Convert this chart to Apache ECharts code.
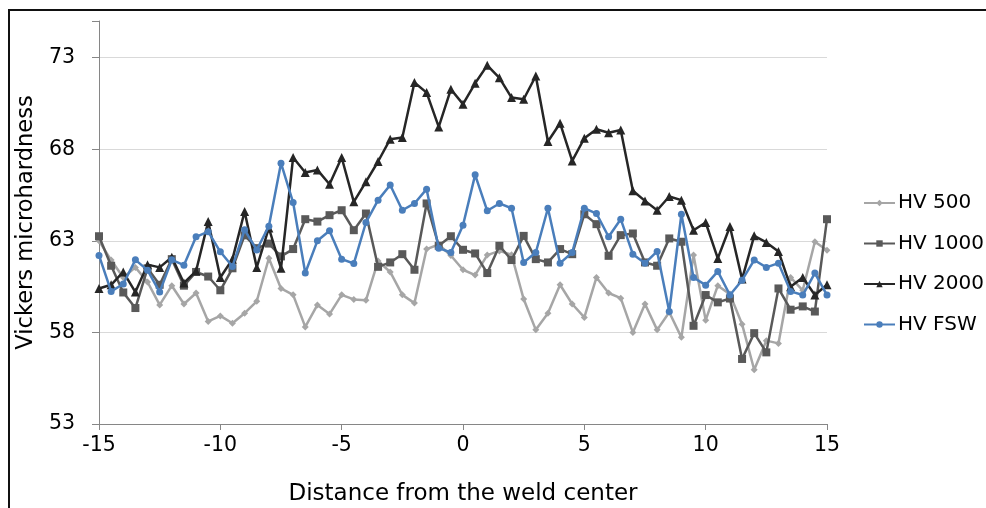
<!DOCTYPE html>
<html>
<head>
<meta charset="utf-8">
<script src="https://cdn.jsdelivr.net/npm/echarts@6/dist/echarts.min.js"></script>
<style>
  html, body { margin: 0; padding: 0; background: #ffffff; }
  #wrap { position: relative; width: 986px; height: 508px; overflow: hidden; }
  #chart { position: absolute; left: 0; top: 0; width: 986px; height: 508px; }
  #frame { position: absolute; left: 8px; top: 9px; width: 1200px; height: 800px;
           border-top: 2px solid #111; border-left: 2px solid #111; pointer-events: none; }
</style>
</head>
<body>
<div id="wrap">
  <div id="chart"></div>
  <div id="frame"></div>
</div>
<script>
// Distance from the weld center (x values)
var distances = [-15, -14.5, -14, -13.5, -13, -12.5, -12, -11.5, -11, -10.5,
  -10, -9.5, -9, -8.5, -8, -7.5, -7, -6.5, -6, -5.5,
  -5, -4.5, -4, -3.5, -3, -2.5, -2, -1.5, -1, -0.5,
  0, 0.5, 1, 1.5, 2, 2.5, 3, 3.5, 4, 4.5,
  5, 5.5, 6, 6.5, 7, 7.5, 8, 8.5, 9, 9.5,
  10, 10.5, 11, 11.5, 12, 12.5, 13, 13.5, 14, 14.5, 15];

var seriesNames = ['HV 500', 'HV 1000', 'HV 2000', 'HV FSW'];

var hv500 = [63.0, 61.95, 61.0, 61.55, 60.75, 59.5, 60.55, 59.55, 60.15, 58.6,
  58.9, 58.5, 59.05, 59.7, 62.05, 60.4, 60.05, 58.3, 59.5, 59.0,
  60.05, 59.8, 59.75, 61.9, 61.3, 60.05, 59.6, 62.55, 62.8, 62.2,
  61.42, 61.13, 62.22, 62.45, 62.24, 59.82, 58.14, 59.05, 60.6, 59.55,
  58.82, 61.0, 60.15, 59.87, 58.0, 59.55, 58.14, 59.1, 57.73, 62.22,
  58.67, 60.55, 60.09, 58.45, 55.96, 57.55, 57.4, 61.0, 60.3, 62.95, 62.49];

var hv1000 = [63.25, 61.64, 60.18, 59.33, 61.5, 60.6, 62.0, 60.55, 61.3, 61.05,
  60.3, 61.5, 63.3, 62.6, 62.85, 62.15, 62.55, 64.18, 64.05, 64.4,
  64.67, 63.58, 64.49, 61.58, 61.82, 62.27, 61.42, 65.04, 62.73, 63.25,
  62.51, 62.31, 61.24, 62.73, 61.95, 63.27, 62.0, 61.82, 62.55, 62.27,
  64.45, 63.91, 62.18, 63.31, 63.4, 61.82, 61.64, 63.13, 62.95, 58.36,
  60.04, 59.64, 59.85, 56.55, 57.96, 56.91, 60.4, 59.24, 59.42, 59.14, 64.18];

var hv2000 = [60.4, 60.6, 61.3, 60.2, 61.7, 61.55, 62.1, 60.7, 61.35, 64.05,
  61.0, 62.0, 64.6, 61.55, 63.7, 61.5, 67.55, 66.73, 66.87, 66.09,
  67.55, 65.13, 66.22, 67.33, 68.55, 68.64, 71.64, 71.09, 69.22, 71.27,
  70.46, 71.6, 72.58, 71.9, 70.82, 70.73, 72.0, 68.42, 69.42, 67.36,
  68.6, 69.09, 68.9, 69.05, 65.73, 65.18, 64.67, 65.42, 65.22, 63.58,
  64.0, 62.04, 63.78, 60.91, 63.27, 62.91, 62.42, 60.49, 61.0, 60.04, 60.6];

var hvFsw = [62.2, 60.24, 60.64, 61.96, 61.4, 60.2, 61.96, 61.67, 63.22, 63.5,
  62.4, 61.6, 63.6, 62.5, 63.8, 67.24, 65.09, 61.24, 63.0, 63.55,
  62.0, 61.76, 64.0, 65.22, 66.05, 64.67, 65.04, 65.82, 62.6, 62.36,
  63.85, 66.6, 64.64, 65.04, 64.78, 61.82, 62.36, 64.78, 61.78, 62.36,
  64.78, 64.49, 63.22, 64.18, 62.27, 61.78, 62.42, 59.14, 64.45, 61.0,
  60.58, 61.33, 60.04, 60.85, 61.95, 61.55, 61.78, 60.24, 60.04, 61.24, 60.04];

var yTickValues = [53, 58, 63, 68, 73];
var xTickValues = [-15, -10, -5, 0, 5, 10, 15];

function pairs(ys) {
  return distances.map(function (x, i) { return [x, ys[i]]; });
}

var FONT = 'DejaVu Sans';
var styles = [
  { color: '#a6a6a6', symbol: 'diamond', size: 7 },
  { color: '#595959', symbol: 'rect', size: 8 },
  { color: '#262626', symbol: 'triangle', size: 9 },
  { color: '#4a7ebb', symbol: 'circle', size: 7 }
];
var allData = [hv500, hv1000, hv2000, hvFsw];

var chart = echarts.init(document.getElementById('chart'), null, { renderer: 'canvas' });

var option = {
  backgroundColor: '#ffffff',
  animation: false,
  textStyle: { fontFamily: FONT },
  grid: { left: 99, right: 159, top: 21, bottom: 84, containLabel: false, outerBoundsMode: 'none' },
  legend: {
    orient: 'vertical',
    left: 863,
    top: 191,
    padding: 0,
    itemWidth: 31,
    itemHeight: 8,
    itemGap: 16.5,
    data: seriesNames,
    textStyle: { fontFamily: FONT, fontSize: 20, color: '#000', lineHeight: 24, padding: [0, 0, 0, -2] }
  },
  xAxis: {
    type: 'value',
    min: -15,
    max: 15,
    interval: 5,
    name: 'Distance from the weld center',
    nameLocation: 'middle',
    nameGap: 59,
    nameTextStyle: { fontFamily: FONT, fontSize: 23, color: '#000' },
    axisLine: { onZero: false, lineStyle: { color: '#868686', width: 1 } },
    axisTick: { show: true, length: 6, lineStyle: { color: '#868686' } },
    axisLabel: { fontFamily: FONT, fontSize: 20.5, color: '#000', margin: 11,
      customValues: xTickValues },
    splitLine: { show: false }
  },
  yAxis: {
    type: 'value',
    min: 53,
    max: 75,
    interval: 5,
    name: 'Vickers microhardness',
    nameLocation: 'middle',
    nameGap: 51,
    nameTextStyle: { fontFamily: FONT, fontSize: 22.6, color: '#000' },
    axisLine: { show: true, onZero: false, lineStyle: { color: '#868686', width: 1 } },
    axisTick: { show: true, length: 7, lineStyle: { color: '#868686' } },
    axisLabel: { fontFamily: FONT, fontSize: 20.5, color: '#000', margin: 24, customValues: yTickValues },
    splitLine: { show: true, lineStyle: { color: ['#d9d9d9', '#d9d9d9', '#d9d9d9', '#d9d9d9', '#d9d9d9', 'rgba(0,0,0,0)'], width: 1 } }
  },
  series: seriesNames.map(function (name, k) {
    var s = styles[k];
    return {
      name: name,
      type: 'line',
      data: pairs(allData[k]),
      symbol: s.symbol,
      symbolSize: s.size,
      showSymbol: true,
      showAllSymbol: true,
      lineStyle: { color: s.color, width: 2.5 },
      itemStyle: { color: s.color },
      z: 2 + k
    };
  })
};

chart.setOption(option);
</script>
</body>
</html>
